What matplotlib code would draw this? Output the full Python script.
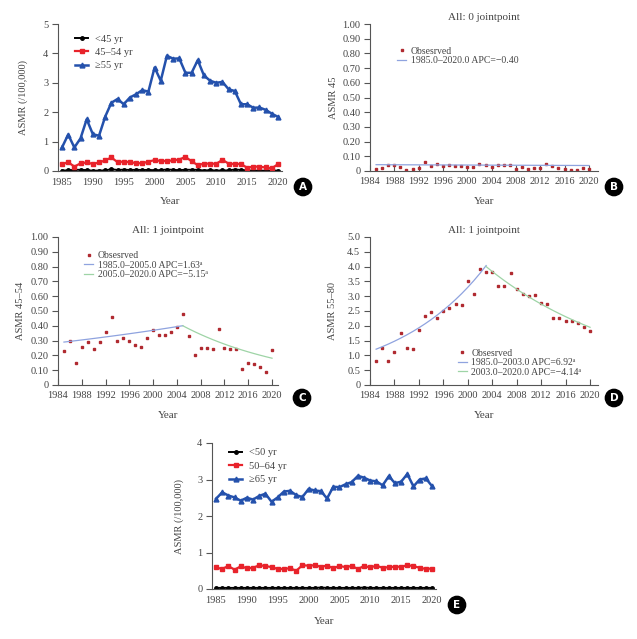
import numpy as np
import matplotlib
matplotlib.use('Agg')
import matplotlib.pyplot as plt

plt.rcParams['font.family'] = ['Liberation Serif', 'DejaVu Serif']
plt.rcParams['font.size'] = 7.5

years = list(range(1985, 2021))

# ASMR by age group (/100,000), 1985-2020
asmr_lt45 = [0.016, 0.02, 0.04, 0.04, 0.03, 0.01, 0.014, 0.02, 0.06, 0.034,
             0.045, 0.034, 0.04, 0.034, 0.036, 0.027, 0.03, 0.05, 0.04, 0.027,
             0.043, 0.04, 0.04, 0.016, 0.03, 0.014, 0.02, 0.02, 0.05, 0.036,
             0.02, 0.011, 0.01, 0.01, 0.018, 0.011]
asmr_45_54 = [0.23, 0.30, 0.15, 0.26, 0.29, 0.24, 0.29, 0.36, 0.46, 0.30,
              0.32, 0.30, 0.27, 0.26, 0.32, 0.37, 0.34, 0.34, 0.36, 0.39,
              0.48, 0.33, 0.20, 0.25, 0.25, 0.245, 0.38, 0.25, 0.24, 0.24,
              0.11, 0.15, 0.145, 0.12, 0.09, 0.235]
asmr_ge55 = [0.80, 1.24, 0.80, 1.11, 1.76, 1.25, 1.20, 1.85, 2.32, 2.45,
             2.27, 2.50, 2.61, 2.75, 2.70, 3.52, 3.07, 3.92, 3.82, 3.83,
             3.34, 3.34, 3.77, 3.25, 3.07, 3.00, 3.03, 2.78, 2.72, 2.27,
             2.27, 2.15, 2.16, 2.08, 1.95, 1.84]

asmr_lt50 = [0.03, 0.03, 0.03, 0.03, 0.03, 0.03, 0.03, 0.03, 0.03, 0.03,
             0.03, 0.03, 0.03, 0.03, 0.03, 0.03, 0.03, 0.04, 0.03, 0.03,
             0.03, 0.03, 0.03, 0.03, 0.04, 0.03, 0.03, 0.03, 0.03, 0.03,
             0.03, 0.03, 0.03, 0.03, 0.03, 0.03]
asmr_50_64 = [0.59, 0.55, 0.63, 0.53, 0.62, 0.57, 0.58, 0.65, 0.63, 0.60,
              0.55, 0.55, 0.57, 0.50, 0.65, 0.64, 0.65, 0.61, 0.64, 0.57,
              0.63, 0.60, 0.63, 0.55, 0.63, 0.59, 0.64, 0.58, 0.60, 0.61,
              0.61, 0.65, 0.63, 0.58, 0.55, 0.56]
asmr_ge65 = [2.47, 2.65, 2.56, 2.51, 2.42, 2.50, 2.45, 2.55, 2.61, 2.39,
             2.51, 2.67, 2.69, 2.57, 2.52, 2.74, 2.70, 2.68, 2.48, 2.80,
             2.79, 2.87, 2.93, 3.10, 3.05, 2.97, 2.95, 2.84, 3.09, 2.90,
             2.94, 3.15, 2.81, 3.00, 3.03, 2.82]

# joinpoint segments: (start year, end year, value at start, APC %)
seg_b = [(1985, 2020, 0.043, -0.40)]
seg_c = [(1985, 2005, 0.29, 1.63), (2005, 2020, 0.40, -5.15)]
seg_d = [(1985, 2003, 1.21, 6.92), (2003, 2020, 4.00, -4.14)]
lab_b = ['1985.0\u20132020.0 APC=\u22120.40']
lab_c = ['1985.0\u20132005.0 APC=1.63\u1d43', '2005.0\u20132020.0 APC=\u22125.15\u1d43']
lab_d = ['1985.0\u20132003.0 APC=6.92\u1d43', '2003.0\u20132020.0 APC=\u22124.14\u1d43']

W, H = 637, 639
TXT = '#444444'
BLUE = '#2451AC'
RED = '#E8232B'
OBS = '#B02A30'
FIT = ['#8FA3DF', '#9ED4A6']

fig = plt.figure(figsize=(W / 100, H / 100), dpi=100)


def box(l, t, r, b):
    return [l / W, 1 - b / H, (r - l) / W, (b - t) / H]


def style(ax, ylab, ylx, xticks_in):
    for s in ['top', 'right']:
        ax.spines[s].set_visible(False)
    for s in ['left', 'bottom']:
        ax.spines[s].set_color('#555555')
        ax.spines[s].set_linewidth(0.8)
    ax.tick_params(axis='y', direction='out', length=4, width=0.8, color='#555555', labelcolor=TXT, pad=3)
    if xticks_in:
        ax.tick_params(axis='x', direction='in', length=4, width=0.8, color='#555555', labelcolor=TXT, pad=4)
    else:
        ax.tick_params(axis='x', length=0, labelcolor=TXT, pad=5)
    ax.set_ylabel(ylab, color=TXT, fontsize=7.5)
    ax.yaxis.set_label_coords(ylx, 0.5)
    ax.set_xlabel('Year', color=TXT, fontsize=8)


def tag(x, y, letter):
    fig.text(x / W, 1 - y / H, letter, ha='center', va='center', color='white',
             fontsize=7.5, fontweight='bold', family='DejaVu Sans',
             bbox=dict(boxstyle='circle,pad=0.35', fc='black', ec='black'))


def age_panel(rect, series, labels, ylx, xly, ymax, legy):
    ax = fig.add_axes(box(*rect))
    ax.plot(years, series[0], color='black', lw=1.4, marker='o', ms=2.5, label=labels[0])
    ax.plot(years, series[1], color=RED, lw=1.6, marker='s', ms=3.5, label=labels[1])
    ax.plot(years, series[2], color=BLUE, lw=1.8, marker='^', ms=3.5, label=labels[2])
    ax.set_xlim(1984.35, 2020.65)
    ax.set_ylim(0, ymax)
    ax.set_xticks(range(1985, 2021, 5))
    ax.set_yticks(range(0, ymax + 1))
    style(ax, 'ASMR (/100,000)', ylx, False)
    ax.xaxis.set_label_coords(0.5, xly)
    leg = ax.legend(loc='upper left', bbox_to_anchor=(0.075, legy), frameon=False,
                    handlelength=1.3, handletextpad=0.6, labelspacing=0.4,
                    borderpad=0, borderaxespad=0, fontsize=7.5)
    for t in leg.get_texts():
        t.set_color(TXT)
    return ax


def jp_panel(rect, obs, segs, labs, title, ylab, ylx, ymax, ystep, fmt, xmax, legpos):
    ax = fig.add_axes(box(*rect))
    ax.plot(years, obs, linestyle='none', marker='s', ms=1.8, color=OBS, label='Obsesrved')
    for i, (y0, y1, v0, apc) in enumerate(segs):
        yy = np.arange(y0, y1 + 1)
        ax.plot(yy, v0 * (1 + apc / 100) ** (yy - y0), color=FIT[i], lw=0.9, label=labs[i])
    ax.set_xlim(1984, xmax)
    ax.set_ylim(0, ymax)
    ax.set_xticks(range(1984, 2021, 4))
    ticks = np.arange(0, ymax + ystep / 2, ystep)
    ax.set_yticks(ticks)
    ax.set_yticklabels(['0'] + [fmt.format(v) for v in ticks[1:]])
    style(ax, ylab, ylx, True)
    ax.xaxis.set_label_coords(0.5, -0.177)
    ax.set_title(title, color=TXT, fontsize=8, pad=3)
    leg = ax.legend(loc='upper left', bbox_to_anchor=legpos, frameon=False, numpoints=1,
                    handlelength=0.9, handletextpad=0.5, labelspacing=0.05,
                    borderpad=0, borderaxespad=0, fontsize=7)
    for t in leg.get_texts():
        t.set_color(TXT)
    return ax


age_panel((58, 24, 282, 171), [asmr_lt45, asmr_45_54, asmr_ge55],
          ['<45 yr', '45\u201354 yr', '\u226555 yr'], -0.134, -0.177, 5, 0.93)
jp_panel((370, 24, 598, 171), asmr_lt45, seg_b, lab_b, 'All: 0 jointpoint', 'ASMR 45',
         -0.14, 1.0, 0.1, '{:.2f}', 2021.5, (0.12, 0.845))
jp_panel((58, 237, 278, 385), asmr_45_54, seg_c, lab_c, 'All: 1 jointpoint', 'ASMR 45\u201354',
         -0.15, 1.0, 0.1, '{:.2f}', 2021.0, (0.12, 0.905))
jp_panel((370, 237, 598, 385), asmr_ge55, seg_d, lab_d, 'All: 1 jointpoint', 'ASMR 55\u201380',
         -0.145, 5.0, 0.5, '{:.1f}', 2021.3, (0.385, 0.245))
age_panel((212, 443, 436, 589), [asmr_lt50, asmr_50_64, asmr_ge65],
          ['<50 yr', '50\u201364 yr', '\u226565 yr'], -0.125, -0.19, 4, 0.965)

tag(303, 187, 'A')
tag(614, 187, 'B')
tag(302, 398, 'C')
tag(614, 398, 'D')
tag(457, 605, 'E')

fig.savefig('out.png', dpi=100, facecolor='white')
